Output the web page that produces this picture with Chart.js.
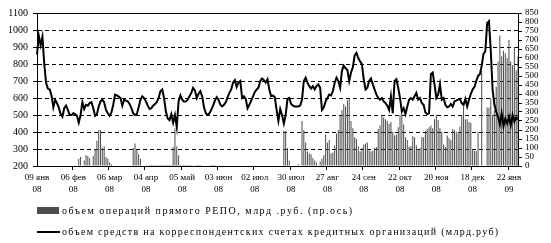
<!DOCTYPE html>
<html>
<head>
<meta charset="utf-8">
<script src="https://cdn.jsdelivr.net/npm/chart.js@4.4.1/dist/chart.umd.min.js"></script>
<style>
  body { margin: 0; background: #fff; }
  #wrap { position: relative; width: 551px; height: 243px; overflow: hidden; }
  #chart { position: absolute; left: 0; top: 0; }
  .leg { position: absolute; left: 62px; font: 10px 'Liberation Serif', 'Times New Roman', serif; line-height: 12px; color: #000; white-space: nowrap; }
  .swatch { position: absolute; left: 37px; }
</style>
</head>
<body>
<div id="wrap">
  <canvas id="chart" width="551" height="243"></canvas>
  <div class="swatch" style="top:207px;width:22px;height:7px;background:#4d4d4d;"></div>
  <div class="leg" id="leg1" style="top:205px;letter-spacing:1.5px;"></div>
  <div class="swatch" style="top:231px;width:23px;height:2px;background:#000;"></div>
  <div class="leg" id="leg2" style="top:226px;letter-spacing:1.3px;"></div>
</div>
<script>
// tick labels, one every 20 trading days
const tickLabels = [
    ['09 янв', '08'], ['06 фев', '08'], ['06 мар', '08'], ['04 апр', '08'],
    ['05 май', '08'], ['03 июн', '08'], ['02 июл', '08'], ['30 июл', '08'],
    ['27 авг', '08'], ['24 сен', '08'], ['22 окт', '08'], ['20 ноя', '08'],
    ['18 дек', '08'], ['22 янв', '09']
];

const repoLabel = 'объем операций прямого РЕПО, млрд .руб. (пр.ось)';
const accountsLabel = 'объем средств на корреспондентских счетах кредитных организаций (млрд.руб)';

// корсчета, млрд руб (левая ось)
const accountValues = [
    855, 965, 910, 960, 800, 690, 655, 650, 615, 545, 590, 570, 545, 505, 490, 540, 555, 530, 500, 500,
    510, 505, 495, 455, 500, 575, 535, 560, 555, 570, 575, 540, 495, 505, 550, 580, 590, 575, 530, 510,
    495, 515, 560, 620, 615, 608, 600, 555, 590, 585, 580, 565, 540, 510, 500, 505, 545, 590, 610, 600,
    580, 555, 535, 540, 555, 565, 575, 600, 640, 650, 600, 520, 480, 470, 505, 455, 500, 430, 580, 615,
    590, 578, 580, 590, 610, 630, 660, 645, 600, 625, 640, 610, 545, 510, 500, 510, 530, 555, 585, 605,
    590, 560, 550, 560, 575, 605, 630, 650, 690, 705, 665, 690, 700, 600, 610, 595, 540, 560, 585, 610,
    635, 650, 660, 700, 715, 705, 690, 710, 650, 610, 615, 605, 530, 465, 535, 500, 450, 500, 595, 600,
    565, 555, 550, 550, 550, 555, 590, 700, 720, 690, 670, 655, 670, 650, 670, 680, 660, 530, 545, 580,
    600, 620, 615, 640, 690, 720, 700, 660, 760, 790, 775, 765, 700, 750, 780, 850, 865, 835, 815, 800,
    710, 650, 660, 700, 715, 680, 650, 620, 600, 590, 600, 580, 570, 555, 530, 610, 510, 700, 710, 660,
    600, 520, 540, 505, 550, 590, 600, 590, 610, 630, 590, 600, 570, 560, 515, 505, 510, 740, 750, 680,
    600, 620, 680, 590, 600, 560, 545, 550, 565, 550, 580, 585, 590, 595, 570, 560, 595, 550, 590, 625,
    650, 665, 700, 730, 740, 790, 860, 875, 1040, 1052, 880, 650, 560, 520, 490, 445, 510, 435, 480, 450,
    490, 440, 500, 460, 485, 475
];

// прямое РЕПО, млрд руб (правая ось)
const repoValues = [
    0, 0, 0, 0, 0, 0, 0, 0, 0, 0, 0, 0, 0, 0, 0, 0, 0, 0, 0, 0,
    0, 0, 0, 40, 50, 0, 30, 60, 55, 45, 0, 55, 95, 140, 200, 200, 100, 110, 50, 40,
    20, 10, 0, 0, 0, 0, 0, 0, 0, 0, 0, 0, 0, 100, 125, 90, 65, 40, 0, 0,
    0, 0, 6, 6, 6, 6, 6, 6, 6, 6, 6, 6, 6, 6, 6, 105, 210, 110, 60, 6,
    6, 6, 6, 6, 6, 6, 0, 0, 5, 5, 5, 0, 0, 0, 0, 0, 5, 5, 5, 0,
    0, 0, 0, 0, 0, 0, 0, 0, 0, 0, 0, 0, 0, 0, 0, 0, 0, 0, 0, 0,
    0, 0, 0, 0, 0, 0, 0, 0, 0, 0, 0, 0, 0, 0, 0, 0, 195, 195, 100, 30,
    0, 0, 0, 0, 10, 0, 250, 200, 130, 80, 70, 65, 45, 30, 20, 0, 25, 40, 60, 175,
    130, 145, 70, 75, 115, 180, 200, 280, 310, 345, 330, 365, 375, 250, 210, 160, 150, 110, 80, 100,
    120, 125, 130, 90, 80, 85, 100, 105, 205, 225, 280, 270, 260, 250, 235, 245, 190, 170, 175, 215,
    285, 290, 230, 160, 145, 105, 110, 165, 160, 115, 95, 100, 160, 160, 195, 205, 215, 225, 210, 260,
    285, 255, 210, 190, 120, 105, 170, 155, 145, 205, 200, 190, 180, 220, 280, 330, 260, 260, 245, 240,
    95, 85, 85, 190, 0, 530, 0, 0, 325, 325, 375, 285, 310, 440, 580, 725, 610, 640, 625, 600,
    700, 580, 560, 660, 530, 610
];

const dayIndex = accountValues.map((_, i) => i);

document.getElementById('leg1').textContent = repoLabel;
document.getElementById('leg2').textContent = accountsLabel;

const tickFont = { family: "'Liberation Serif', 'Times New Roman', serif", size: 10 };

// top frame line of the plot area
const frameTop = {
    id: 'frameTop',
    afterDraw(chart) {
        const { ctx, chartArea } = chart;
        ctx.save();
        ctx.strokeStyle = '#000';
        ctx.lineWidth = 1;
        ctx.beginPath();
        ctx.moveTo(chartArea.left, Math.round(chartArea.top) + 0.5);
        ctx.lineTo(chartArea.right, Math.round(chartArea.top) + 0.5);
        ctx.stroke();
        ctx.restore();
    }
};

const ctx = document.getElementById('chart').getContext('2d');
new Chart(ctx, {
    data: {
        labels: dayIndex,
        datasets: [{
            type: 'line',
            label: accountsLabel,
            data: accountValues,
            yAxisID: 'y',
            borderColor: '#000',
            borderWidth: 2,
            pointRadius: 0,
            tension: 0,
            order: 0
        }, {
            type: 'bar',
            label: repoLabel,
            data: repoValues,
            yAxisID: 'y2',
            backgroundColor: '#4d4d4d',
            barThickness: 1,
            inflateAmount: 0,
            order: 1
        }]
    },
    options: {
        responsive: false,
        animation: false,
        layout: { padding: { top: 13, left: 0, right: 0, bottom: 0 } },
        plugins: {
            legend: { display: false },
            tooltip: { enabled: false }
        },
        scales: {
            x: {
                type: 'category',
                offset: false,
                grid: {
                    drawOnChartArea: false,
                    tickLength: 4,
                    tickColor: c => (c.index % 20 === 0 ? '#000' : 'rgba(0,0,0,0)')
                },
                border: { color: '#000' },
                ticks: {
                    autoSkip: false,
                    maxRotation: 0,
                    minRotation: 0,
                    padding: 2,
                    color: '#000',
                    font: { ...tickFont, size: 9, lineHeight: 1.3 },
                    callback: (v, i) => (i % 20 === 0 ? tickLabels[i / 20] : '')
                },
                afterFit: s => { s.height = 77; }
            },
            y: {
                position: 'left',
                min: 200,
                max: 1100,
                grid: {
                    color: c => (c.tick && (c.tick.value === 200 || c.tick.value === 1100) ? 'rgba(0,0,0,0)' : '#000'),
                    tickColor: '#000',
                    tickLength: 4
                },
                border: { color: '#000', dash: [4, 3] },
                ticks: { stepSize: 100, padding: 5, color: '#000', font: tickFont, callback: v => String(v) },
                afterFit: s => { s.width = 37; }
            },
            y2: {
                position: 'right',
                min: 0,
                max: 850,
                grid: { drawOnChartArea: false, tickColor: '#000', tickLength: 4 },
                border: { color: '#000' },
                ticks: { stepSize: 50, autoSkip: false, padding: 3, color: '#000', font: { ...tickFont, size: 9 }, callback: v => String(v) },
                afterFit: s => { s.width = 33; }
            }
        }
    },
    plugins: [frameTop]
});
</script>
</body>
</html>
